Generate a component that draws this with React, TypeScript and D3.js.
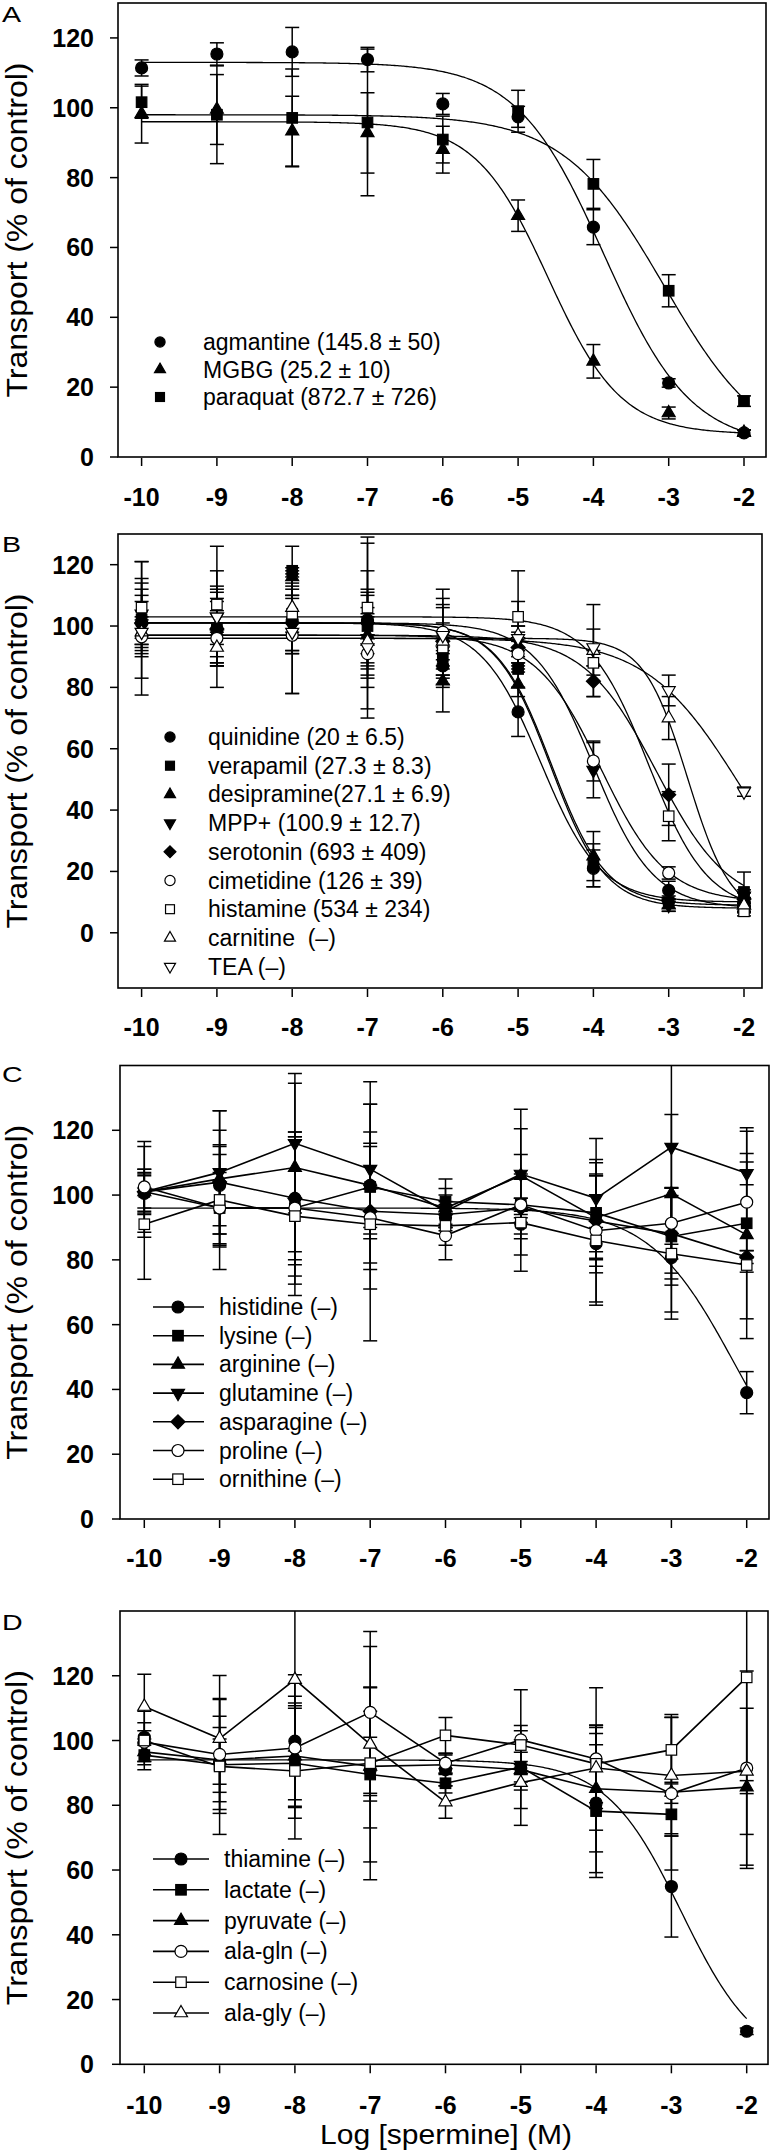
import React from 'react';
import * as d3 from 'd3';

// ---------- shared ----------
const X_VALUES = [-10, -9, -8, -7, -6, -5, -4, -3, -2];
const X_TICKS = [-10, -9, -8, -7, -6, -5, -4, -3, -2];
const Y_TICKS = [0, 20, 40, 60, 80, 100, 120];
const Y_TITLE = 'Transport (% of control)';
const X_TITLE = 'Log [spermine] (M)';

// ---------- Panel A ----------
const agmantine = [111.4, 115.4, 116, 113.8, 101.1, 97.4, 65.8, 21.2, 6.9];
const agmantineErr = [2.3, 3.2, 7, 3.5, 3, 3, 5, 1.2, 0.8];
const agmantineFit = [113, 3, -3.86, 0.75];
const mgbg = [98.3, 99.5, 93.3, 92.8, 88, 69.1, 27.4, 12.6, 7];
const mgbgErr = [8.4, 10, 10, 11.5, 6.7, 4.5, 4.8, 1.7, 0.8];
const mgbgFit = [96, 6.5, -4.6, 0.9];
const paraquat = [101.6, 98, 97.1, 95.8, 90.9, 99, 78.2, 47.6, 16];
const paraquatErr = [4.6, 14, 14, 21, 6.7, 6, 7, 4.6, 1.5];
const paraquatFit = [98, 0, -3.06, 0.65];

// ---------- Panel B ----------
const quinidine = [101, 99, 102, 102, 87, 72, 21, 13.8, 10];
const quinidineErr = [9, 9, 10, 16, 4, 8, 6, 3, 1.5];
const quinidineFit = [101, 10, -4.7, 1.1];
const verapamil = [102, 99, 118, 100, 90, 86, 22, 10, 13.3];
const verapamilErr = [19, 19, 8, 27, 6, 6, 7, 2, 6.5];
const verapamilFit = [101, 9, -4.56, 1.2];
const desipramine = [102, 100, 116, 97, 82, 81, 25, 9, 9];
const desipramineErr = [12, 13, 3, 13, 10, 4, 8, 2, 2];
const desipramineFit = [101, 8, -4.57, 1.2];
const mpp = [104, 103, 100, 96, 92, 95, 53, 9, 12];
const mppErr = [8, 6, 9, 8, 6, 5, 9, 2, 2];
const mppFit = [101, 8, -4.0, 1.1];
const serotonin = [101, 99, 101, 101, 95, 93, 82, 45, 11];
const serotoninErr = [7, 12, 9, 10, 6, 5, 5, 10, 2];
const serotoninFit = [97, 8, -3.16, 0.9];
const cimetidine = [96.5, 96, 97, 91, 98, 91, 56, 19.5, 8];
const cimetidineErr = [19, 9, 19, 21, 14, 4, 6.5, 2, 1.5];
const cimetidineFit = [97, 10, -3.9, 1.0];
const histamine = [106, 107, 104, 106, 93, 103, 88, 38, 7];
const histamineErr = [15, 19, 13, 23, 13, 15, 4, 8, 1.5];
const histamineFit = [103, 7, -3.27, 1.1];
const carnitine = [98, 93, 106, 95, 95, 97, 92, 70, 9];
const carnitineErr = [5, 5, 8, 8, 14, 11, 15, 7, 2];
const carnitineFit = [96, 5, -2.75, 1.5];
const tea = [98, 103, 98, 93, 97, 96, 93, 79, 46];
const teaErr = [4, 9, 20, 13, 10, 4, 6, 5, 1.5];
const teaFit = [96, 0, -2.05, 0.7];

// ---------- Panel C ----------
const histidine = [100.5, 103, 99, 103, 93, 91, 85, 80.7, 39];
const histidineErr = [6, 12.5, 19, 13, 4, 3, 5, 19, 6.5];
const histidineFit = [96, 0, -2.162, 0.767];
const lysine = [101, 96, 96, 102.5, 98, 97, 94.5, 87.2, 91.3];
const lysineErr = [14, 19, 21, 25.5, 7, 2, 12, 15, 29.5];
const arginine = [101, 105, 108.5, 103, 96, 106, 93, 100.4, 87.7];
const arginineErr = [7, 21, 26, 16.5, 6, 14.5, 17, 24.5, 32];
const glutamine = [101, 107, 116, 108, 95, 106.5, 99, 114.8, 106.7];
const glutamineErr = [5, 19, 21.5, 20, 5, 20, 18.5, 30, 3.5];
const asparagine = [101, 104, 99, 95, 94, 96, 92, 88.1, 80.9];
const asparagineErr = [6, 16, 20.5, 40, 4, 3, 14, 14, 2];
const proline = [102.5, 96, 96, 93, 87.5, 97, 89, 91.3, 97.8];
const prolineErr = [14, 11, 23.5, 22, 7.5, 15.5, 22, 11, 15];
const ornithine = [91, 98.5, 93.5, 91, 90.5, 91.5, 86, 81.9, 78.4];
const ornithineErr = [17, 14, 24.5, 12, 6, 15, 20, 18, 2.2];

// ---------- Panel D ----------
const thiamine = [101, 93.5, 99.8, 91, 91, 91.5, 80.7, 54.9, 10.2];
const thiamineErr = [2, 7, 20.5, 18, 5, 2, 21.5, 15.6, 1];
const thiamineFit = [94, 0, -2.866, 0.87];
const lactate = [95.5, 92.5, 93, 89.5, 86.8, 91.8, 78.2, 77.2, null];
const lactateErr = [3, 15, 17, 27, 3, 4.6, 20.5, 6.7, null];
const pyruvate = [96.5, 94, 95.2, 92, 92.5, 91, 85.1, 84, 85.6];
const pyruvateErr = [3, 10, 15.5, 9, 3, 12, 19.5, 24, 2];
const alaGln = [99.5, 95.7, 97.7, 108.7, 93, 100.2, 94.3, 83.6, 91.5];
const alaGlnErr = [6, 17, 16, 25, 3, 15.5, 22, 3, 30];
const carnosine = [100, 92, 90.6, 93, 101.6, 98.6, 92.8, 97.1, 119.5];
const carnosineErr = [9, 21, 21, 36, 5.5, 6, 12, 10, 59];
const alaGly = [110.5, 100.6, 118.8, 98.8, 81, 87, 91.5, 89.2, 90.5];
const alaGlyErr = [10, 19.5, 22, 17.5, 5, 13.2, 12.5, 18, 19.5];

type Shape = 'circle' | 'square' | 'triUp' | 'triDown' | 'diamond';
interface Series {
  label: string;
  values: (number | null)[];
  errors: (number | null)[];
  shape: Shape;
  filled: boolean;
  fit?: number[];
  connect?: boolean;
}
interface Panel {
  id: string;
  box: { left: number; right: number; top: number; bottom: number };
  yDomain: [number, number];
  xRange: [number, number];
  series: Series[];
  legend: { lined: boolean; x1: number; x2: number; markerX: number; textX: number; y0: number; dy: number; size: number };
  labelY: number;
  tickLabelY: number;
}

const panels: Panel[] = [
  {
    id: 'A',
    box: { left: 118, right: 766, top: 3, bottom: 457 },
    yDomain: [0, 130],
    xRange: [141.6, 744],
    series: [
      { label: 'agmantine (145.8 ± 50)', values: agmantine, errors: agmantineErr, shape: 'circle', filled: true, fit: agmantineFit },
      { label: 'MGBG (25.2 ± 10)', values: mgbg, errors: mgbgErr, shape: 'triUp', filled: true, fit: mgbgFit },
      { label: 'paraquat (872.7 ± 726)', values: paraquat, errors: paraquatErr, shape: 'square', filled: true, fit: paraquatFit },
    ],
    legend: { lined: false, x1: 0, x2: 0, markerX: 160, textX: 203, y0: 342, dy: 27.5, size: 0.85 },
    labelY: 22,
    tickLabelY: 506,
  },
  {
    id: 'B',
    box: { left: 118, right: 762, top: 534, bottom: 988 },
    yDomain: [-18, 130],
    xRange: [141.6, 744],
    series: [
      { label: 'quinidine (20 ± 6.5)', values: quinidine, errors: quinidineErr, shape: 'circle', filled: true, fit: quinidineFit },
      { label: 'verapamil (27.3 ± 8.3)', values: verapamil, errors: verapamilErr, shape: 'square', filled: true, fit: verapamilFit },
      { label: 'desipramine(27.1 ± 6.9)', values: desipramine, errors: desipramineErr, shape: 'triUp', filled: true, fit: desipramineFit },
      { label: 'MPP+ (100.9 ± 12.7)', values: mpp, errors: mppErr, shape: 'triDown', filled: true, fit: mppFit },
      { label: 'serotonin (693 ± 409)', values: serotonin, errors: serotoninErr, shape: 'diamond', filled: true, fit: serotoninFit },
      { label: 'cimetidine (126 ± 39)', values: cimetidine, errors: cimetidineErr, shape: 'circle', filled: false, fit: cimetidineFit },
      { label: 'histamine (534 ± 234)', values: histamine, errors: histamineErr, shape: 'square', filled: false, fit: histamineFit },
      { label: 'carnitine  (–)', values: carnitine, errors: carnitineErr, shape: 'triUp', filled: false, fit: carnitineFit },
      { label: 'TEA (–)', values: tea, errors: teaErr, shape: 'triDown', filled: false, fit: teaFit },
    ],
    legend: { lined: false, x1: 0, x2: 0, markerX: 170, textX: 208, y0: 737, dy: 28.7, size: 0.85 },
    labelY: 552,
    tickLabelY: 1036,
  },
  {
    id: 'C',
    box: { left: 120, right: 769, top: 1065.5, bottom: 1519 },
    yDomain: [0, 140],
    xRange: [144.3, 746.7],
    series: [
      { label: 'histidine (–)', values: histidine, errors: histidineErr, shape: 'circle', filled: true, fit: histidineFit },
      { label: 'lysine (–)', values: lysine, errors: lysineErr, shape: 'square', filled: true, connect: true },
      { label: 'arginine (–)', values: arginine, errors: arginineErr, shape: 'triUp', filled: true, connect: true },
      { label: 'glutamine (–)', values: glutamine, errors: glutamineErr, shape: 'triDown', filled: true, connect: true },
      { label: 'asparagine (–)', values: asparagine, errors: asparagineErr, shape: 'diamond', filled: true, connect: true },
      { label: 'proline (–)', values: proline, errors: prolineErr, shape: 'circle', filled: false, connect: true },
      { label: 'ornithine (–)', values: ornithine, errors: ornithineErr, shape: 'square', filled: false, connect: true },
    ],
    legend: { lined: true, x1: 153, x2: 204, markerX: 178, textX: 219, y0: 1307, dy: 28.7, size: 1 },
    labelY: 1082,
    tickLabelY: 1567,
  },
  {
    id: 'D',
    box: { left: 120, right: 768, top: 1611, bottom: 2064.3 },
    yDomain: [0, 140],
    xRange: [144.3, 746.7],
    series: [
      { label: 'thiamine (–)', values: thiamine, errors: thiamineErr, shape: 'circle', filled: true, fit: thiamineFit },
      { label: 'lactate (–)', values: lactate, errors: lactateErr, shape: 'square', filled: true, connect: true },
      { label: 'pyruvate (–)', values: pyruvate, errors: pyruvateErr, shape: 'triUp', filled: true, connect: true },
      { label: 'ala-gln (–)', values: alaGln, errors: alaGlnErr, shape: 'circle', filled: false, connect: true },
      { label: 'carnosine (–)', values: carnosine, errors: carnosineErr, shape: 'square', filled: false, connect: true },
      { label: 'ala-gly (–)', values: alaGly, errors: alaGlyErr, shape: 'triUp', filled: false, connect: true },
    ],
    legend: { lined: true, x1: 153, x2: 209, markerX: 181, textX: 224, y0: 1859, dy: 30.8, size: 1 },
    labelY: 1630,
    tickLabelY: 2114,
  },
];

const FONT = "'Liberation Sans', Arial, Helvetica, sans-serif";

const fitValue = (p: number[], x: number) => p[1] + (p[0] - p[1]) / (1 + Math.pow(10, (x - p[2]) * p[3]));

function Marker({ shape, filled, cx, cy, k = 1 }: { shape: Shape; filled: boolean; cx: number; cy: number; k?: number }) {
  const fill = filled ? '#000' : '#fff';
  const sw = 1.2;
  if (shape === 'circle') return <circle cx={cx} cy={cy} r={6 * k} fill={fill} stroke="#000" strokeWidth={sw} />;
  if (shape === 'square') {
    const s = 10.5 * k;
    return <rect x={cx - s / 2} y={cy - s / 2} width={s} height={s} fill={fill} stroke="#000" strokeWidth={sw} />;
  }
  let pts: [number, number][] = [];
  if (shape === 'triUp' || shape === 'triDown') {
    const s = 13 * k;
    const h = s * 0.866;
    const sign = shape === 'triUp' ? 1 : -1;
    pts = [[0, -sign * h * 2 / 3], [s / 2, sign * h / 3], [-s / 2, sign * h / 3]];
  } else {
    const d = 7 * k;
    pts = [[0, -d], [d, 0], [0, d], [-d, 0]];
  }
  return <polygon points={pts.map(([a, b]) => `${cx + a},${cy + b}`).join(' ')} fill={fill} stroke="#000" strokeWidth={sw} strokeLinejoin="miter" />;
}

function PanelView({ p }: { p: Panel }) {
  const { box } = p;
  const x = d3.scaleLinear().domain([-10, -2]).range(p.xRange);
  const y = d3.scaleLinear().domain(p.yDomain).range([box.bottom, box.top]);
  const clipId = `clip-${p.id}`;
  const fitXs = d3.range(-10, -2 + 1e-9, 0.02);
  const line = d3.line<[number, number]>().x((d) => x(d[0])).y((d) => y(d[1]));
  const titleCY = (box.top + box.bottom) / 2;

  return (
    <g>
      <defs>
        <clipPath id={clipId}>
          <rect x={box.left} y={box.top} width={box.right - box.left} height={box.bottom - box.top} />
        </clipPath>
      </defs>
      {/* panel label */}
      <text transform={`translate(2,${p.labelY}) scale(1.3,1)`} fontFamily={FONT} fontSize={22}>{p.id}</text>
      {/* y title */}
      <text
        transform={`translate(27,${titleCY}) rotate(-90)`}
        textAnchor="middle"
        fontFamily={FONT}
        fontSize={30}
        textLength={335}
        lengthAdjust="spacingAndGlyphs"
      >
        {Y_TITLE}
      </text>
      {/* data */}
      <g clipPath={`url(#${clipId})`}>
        {p.series.map((s, i) =>
          s.fit ? (
            <path key={`f${i}`} d={line(fitXs.map((xv) => [xv, fitValue(s.fit!, xv)] as [number, number])) || ''} fill="none" stroke="#000" strokeWidth={1.3} />
          ) : null
        )}
        {p.series.map((s, i) =>
          s.connect ? (
            <path
              key={`c${i}`}
              d={line(X_VALUES.map((xv, j) => [xv, s.values[j]] as [number, number | null]).filter((d) => d[1] !== null) as [number, number][]) || ''}
              fill="none"
              stroke="#000"
              strokeWidth={1.6}
            />
          ) : null
        )}
        {p.series.map((s, i) => (
          <g key={`e${i}`} stroke="#000" strokeWidth={1.5}>
            {X_VALUES.map((xv, j) => {
              const v = s.values[j];
              const e = s.errors[j];
              if (v === null || e === null || e === undefined) return null;
              const cx = x(xv);
              const y1 = y(v + e);
              const y2 = y(v - e);
              return (
                <g key={j}>
                  <line x1={cx} x2={cx} y1={y1} y2={y2} />
                  <line x1={cx - 7} x2={cx + 7} y1={y1} y2={y1} />
                  <line x1={cx - 7} x2={cx + 7} y1={y2} y2={y2} />
                </g>
              );
            })}
          </g>
        ))}
        {p.series.map((s, i) => (
          <g key={`m${i}`}>
            {X_VALUES.map((xv, j) => {
              const v = s.values[j];
              if (v === null) return null;
              return <Marker key={j} shape={s.shape} filled={s.filled} cx={x(xv)} cy={y(v)} />;
            })}
          </g>
        ))}
      </g>
      {/* box */}
      <rect x={box.left} y={box.top} width={box.right - box.left} height={box.bottom - box.top} fill="none" stroke="#000" strokeWidth={1.6} />
      {/* y ticks */}
      {Y_TICKS.map((t) => (
        <g key={`yt${t}`}>
          <line x1={box.left - 8} x2={box.left} y1={y(t)} y2={y(t)} stroke="#000" strokeWidth={1.5} />
          <text x={94} y={y(t) + 9} textAnchor="end" fontFamily={FONT} fontWeight="bold" fontSize={25}>{t}</text>
        </g>
      ))}
      {/* x ticks */}
      {X_TICKS.map((t) => (
        <g key={`xt${t}`}>
          <line x1={x(t)} x2={x(t)} y1={box.bottom + 1} y2={box.bottom + 9} stroke="#000" strokeWidth={1.5} />
          <text x={x(t)} y={p.tickLabelY} textAnchor="middle" fontFamily={FONT} fontWeight="bold" fontSize={25}>{t}</text>
        </g>
      ))}
      {/* legend */}
      {p.series.map((s, i) => {
        const ly = p.legend.y0 + i * p.legend.dy;
        return (
          <g key={`l${i}`}>
            {p.legend.lined ? <line x1={p.legend.x1} x2={p.legend.x2} y1={ly} y2={ly} stroke="#000" strokeWidth={1.6} /> : null}
            <Marker shape={s.shape} filled={s.filled} cx={p.legend.markerX} cy={ly} k={p.legend.size} />
            <text x={p.legend.textX} y={ly + 8} fontFamily={FONT} fontSize={23} style={{ whiteSpace: 'pre' }}>{s.label}</text>
          </g>
        );
      })}
    </g>
  );
}

export default function App() {
  return (
    <svg
      width={770}
      height={2153}
      viewBox="0 0 770 2153"
      style={{ position: 'absolute', left: 0, top: 0, background: '#fff', display: 'block' }}
    >
      <rect x={0} y={0} width={770} height={2153} fill="#fff" />
      {panels.map((p) => (
        <PanelView key={p.id} p={p} />
      ))}
      <text x={446} y={2144} textAnchor="middle" fontFamily={FONT} fontSize={27} textLength={252} lengthAdjust="spacingAndGlyphs">
        {X_TITLE}
      </text>
    </svg>
  );
}
